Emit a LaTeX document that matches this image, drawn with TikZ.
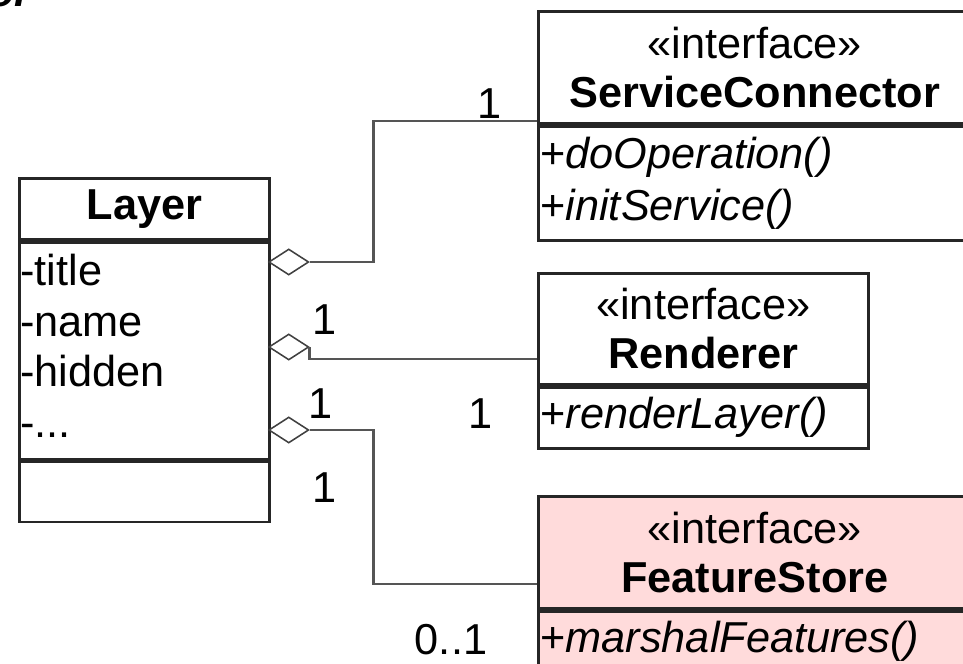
\documentclass[tikz,border=0pt]{standalone}
\usepackage{fontspec}
\setmainfont{Liberation Sans}
\usepackage{tikz}
\usetikzlibrary{shapes,positioning}
\definecolor{storepink}{RGB}{255,219,219}
\definecolor{linegray}{RGB}{85,85,85}
\tikzset{
  every node/.style={font=\fontsize{30.8}{37}\selectfont},
  classhead/.style={draw=black!85, line width=2pt, inner sep=0pt, align=center},
  classbody/.style={draw=black!85, line width=2pt, inner xsep=0.05cm, inner ysep=0pt, align=left},
  attrtext/.style={anchor=north west, inner sep=0pt, align=left, font=\fontsize{30.8}{36}\selectfont},
  aggr/.style={diamond, draw=black!75, line width=1.1pt, fill=white, inner sep=0pt,
    minimum width=1cm, minimum height=0.65cm, anchor=west},
  assoc/.style={draw=linegray, line width=1.8pt},
  mult/.style={anchor=base, inner sep=0pt}
}

\begin{document}
\begin{tikzpicture}
\useasboundingbox (0,0) rectangle (24.075,-16.6);

% cut-off caption at the top
\node[anchor=base west, inner sep=0pt, font=\fontsize{30.8}{37}\selectfont\bfseries\itshape] (caption) at (-0.3,-0.175) {or};

% Layer class
\node[classhead, minimum width=6.25cm, minimum height=1.525cm, anchor=north west] (layer) at (0.45,-4.425) {\textbf{Layer}};
\node[classbody, text width=6.15cm, minimum height=5.425cm, below=0pt of layer] (layerattr) {};
\node[attrtext] (layerattrtext) at ([xshift=0.05cm,yshift=-0.33cm]layerattr.north west) {-title\\-name\\-hidden\\-...};
\node[classbody, text width=6.15cm, minimum height=1.5cm, below=0pt of layerattr] (layerops) {};

% Interfaces
\node[classhead, minimum width=10.825cm, minimum height=2.8cm, anchor=north west] (svc) at (13.425,-0.25) {«interface»\\[-2pt]\textbf{ServiceConnector}};
\node[classbody, text width=10.725cm, minimum height=2.85cm, below=0pt of svc] (svcops) {+\textit{doOperation()}\\+\textit{initService()}};

\node[classhead, minimum width=8.25cm, minimum height=2.775cm, anchor=north west] (rend) at (13.425,-6.8) {«interface»\\[-2pt]\textbf{Renderer}};
\node[classbody, text width=8.15cm, minimum height=1.525cm, below=0pt of rend] (rendops) {+\textit{renderLayer()}};

\node[classhead, fill=storepink, minimum width=10.825cm, minimum height=2.8cm, anchor=north west] (store) at (13.425,-12.375) {«interface»\\[-2pt]\textbf{FeatureStore}};
\node[classbody, fill=storepink, text width=10.725cm, minimum height=1.525cm, below=0pt of store] (storeops) {+\textit{marshalFeatures()}};

% Aggregations
\node[aggr] (agg1) at (6.7,-6.55) {};
\node[aggr] (agg2) at (6.7,-8.675) {};
\node[aggr] (agg3) at (6.7,-10.75) {};

\draw[assoc] (agg1.east) -- ++(1.6,0) |- ([yshift=0.1cm]svc.south west);
\draw[assoc] (agg2.east) |- ([yshift=0.675cm]rend.south west);
\draw[assoc] (agg3.east) -- ++(1.6,0) |- ([yshift=0.65cm]store.south west);

% Multiplicities
\node[mult] (m1) at (12.25,-2.95) {1};
\node[mult] (m2) at (8.125,-8.35) {1};
\node[mult] (m3) at (12.025,-10.7) {1};
\node[mult] (m4) at (8.025,-10.45) {1};
\node[mult] (m5) at (8.125,-12.55) {1};
\node[mult] (m6) at (11.275,-16.35) {0..1};
\end{tikzpicture}
\end{document}
